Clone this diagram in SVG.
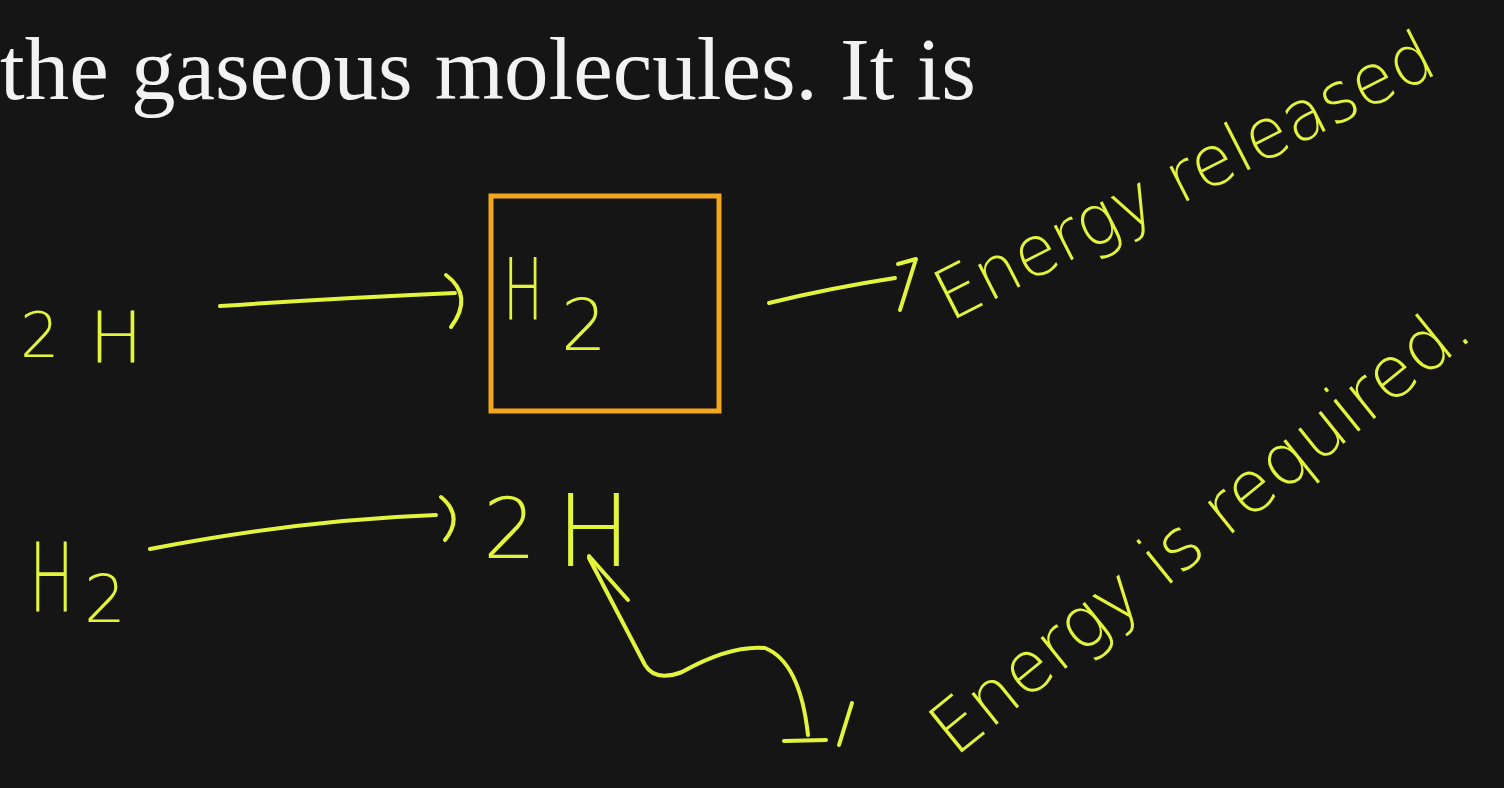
<svg xmlns="http://www.w3.org/2000/svg" width="1504" height="788" viewBox="0 0 1504 788">
  <style>
    .hw { fill: #e2f43c; font-family: "DejaVu Sans", "Liberation Sans", sans-serif; font-weight: 200; }
    .ink { fill: none; stroke: #e2f43c; stroke-width: 4; stroke-linecap: round; stroke-linejoin: round; }
    .title { fill: #f2f2f2; font-family: "Liberation Serif", "DejaVu Serif", serif; }
  </style>
  <rect x="0" y="0" width="1504" height="788" fill="#151515"/>

  <g id="heading">
    <text class="title" x="0" y="99" font-size="88" textLength="976" lengthAdjust="spacingAndGlyphs">the gaseous molecules. It is</text>
  </g>

  <g id="node-2H-top">
    <text class="hw"><tspan x="20" y="357" font-size="62">2</tspan><tspan x="89" y="362" font-size="72">H</tspan></text>
  </g>

  <g id="node-H2-box">
    <rect x="491" y="196" width="228" height="215" fill="none" stroke="#f2a71f" stroke-width="5"/>
    <text class="hw" x="503" y="320" font-size="86" textLength="40" lengthAdjust="spacingAndGlyphs">H</text>
    <text class="hw" x="561" y="350" font-size="72">2</text>
  </g>

  <g id="node-energy-released">
    <text class="hw" font-size="70" transform="translate(950,322) rotate(-27)" textLength="550" lengthAdjust="spacingAndGlyphs">Energy released</text>
  </g>

  <g id="node-H2-bottom">
    <text class="hw" font-size="60" transform="translate(29,612) scale(1,1.6)">H</text>
    <text class="hw" x="84" y="622" font-size="66">2</text>
  </g>

  <g id="node-2H-bottom">
    <text class="hw"><tspan x="483" y="558" font-size="84">2</tspan><tspan x="556" y="566" font-size="100">H</tspan></text>
  </g>

  <g id="node-energy-required">
    <text class="hw" font-size="72" transform="translate(955,758) rotate(-39)" textLength="670" lengthAdjust="spacingAndGlyphs">Energy is required.</text>
  </g>

  <g id="connectors">
    <path class="ink" d="M220,306 Q340,298 455,293"/>
    <path class="ink" d="M446,275 Q474,296 451,327"/>
    <path class="ink" d="M769,303 Q830,288 895,278"/>
    <path class="ink" d="M898,264 L916,259 L900,310"/>
    <path class="ink" d="M150,549 Q300,520 436,515"/>
    <path class="ink" d="M441,497 Q464,516 445,540"/>
    <path class="ink" d="M589,556 L628,600"/>
    <path class="ink" d="M589,558 L645,665 Q655,682 682,672 Q730,645 765,648 Q800,662 808,735"/>
    <path class="ink" d="M784,741 L826,740"/>
    <path class="ink" d="M852,703 L839,745"/>
  </g>
</svg>
